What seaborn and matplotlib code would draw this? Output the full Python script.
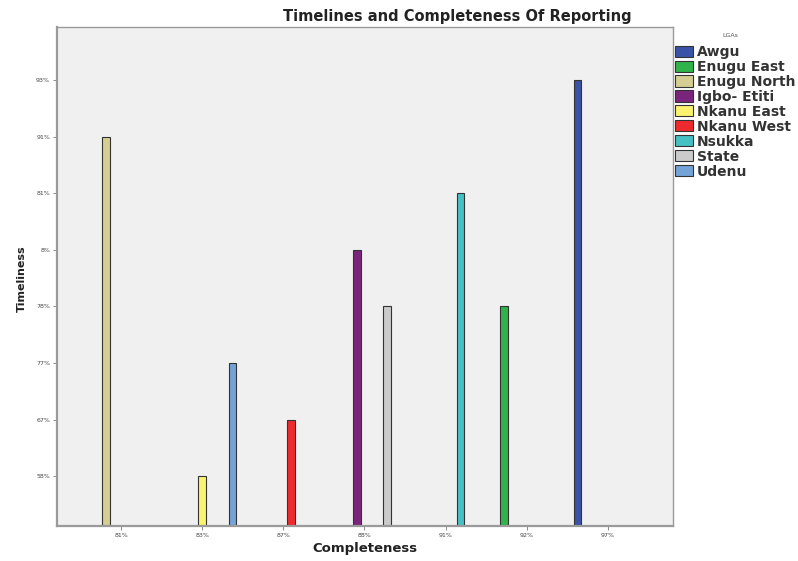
import matplotlib
matplotlib.use("Agg")
import matplotlib.pyplot as plt
import seaborn as sns
import pandas as pd

# Reporting districts and their completeness / timeliness categories
lgas = ["Awgu", "Enugu East", "Enugu North", "Igbo- Etiti", "Nkanu East",
        "Nkanu West", "Nsukka", "State", "Udenu"]
completeness = ["97%", "92%", "81%", "88%", "83%", "87%", "91%", "88%", "83%"]
timeliness = ["93%", "78%", "91%", "8%", "58%", "67%", "81%", "78%", "77%"]

# Category orders (as sorted by the statistics package, i.e. as text)
completeness_order = ["81%", "83%", "87%", "88%", "91%", "92%", "97%"]
timeliness_order = ["58%", "67%", "77%", "78%", "8%", "81%", "91%", "93%"]

colors = ["#3b53a6", "#2fb34a", "#d4ce93", "#7a257c", "#faf36e",
          "#ee2a2f", "#45c1c4", "#cbcbcb", "#74a3d8"]

df = pd.DataFrame({"LGAs": lgas, "Completeness": completeness,
                   "Timeliness": timeliness})
# Bar height is the position of the timeliness category on the y axis
df["level"] = [timeliness_order.index(t) + 1 for t in df["Timeliness"]]

sns.set_theme(style="white")
plt.rcParams["font.family"] = ["DejaVu Sans"]

fig = plt.figure(figsize=(7.98, 5.61), dpi=100)
ax = fig.add_axes([0.0714, 0.0624, 0.7716, 0.8896])
ax.set_facecolor("#f0f0f0")

sns.barplot(data=df, x="Completeness", y="level", hue="LGAs",
            order=completeness_order, hue_order=lgas,
            palette=colors, width=0.84, dodge=True,
            edgecolor="#333333", linewidth=0.8, errorbar=None,
            saturation=1, ax=ax)

ax.set_xlim(-0.79, 6.8)
ax.set_ylim(0.12, 8.94)
ax.set_yticks(range(1, len(timeliness_order) + 1))
ax.set_yticklabels(timeliness_order)
ax.tick_params(axis="both", labelsize=4.5, length=3, width=0.6,
               color="#777777", labelcolor="#444444", pad=2,
               left=True, bottom=True)

for side, sp in ax.spines.items():
    sp.set_color("#9a9a9a")
    sp.set_linewidth(1.6 if side in ("left", "bottom") else 1.0)

ax.set_xlabel("")
ax.set_ylabel("")
fig.text(0.457, 0.023, "Completeness", fontsize=9.5, fontweight="bold",
         color="#222222", ha="center", va="center")
fig.text(0.028, 0.504, "Timeliness", rotation=90, fontsize=8,
         fontweight="bold", color="#222222", ha="center", va="center")

fig.text(0.573, 0.971, "Timelines and Completeness Of Reporting",
         fontsize=10.5, fontweight="bold", color="#222222",
         ha="center", va="center")

handles, labels = ax.get_legend_handles_labels()
if ax.get_legend() is not None:
    ax.get_legend().remove()
leg = fig.legend(handles, labels, loc="upper left",
                 bbox_to_anchor=(0.846, 0.92), frameon=False,
                 prop={"size": 10, "weight": "bold"},
                 handlelength=1.3, handleheight=0.85,
                 handletextpad=0.25, labelspacing=0.07,
                 borderaxespad=0, borderpad=0)
for t in leg.get_texts():
    t.set_color("#333333")
fig.text(0.915, 0.937, "LGAs", fontsize=4.5, color="#555555",
         ha="center", va="center")

fig.savefig("out.png", dpi=100, facecolor="white")
